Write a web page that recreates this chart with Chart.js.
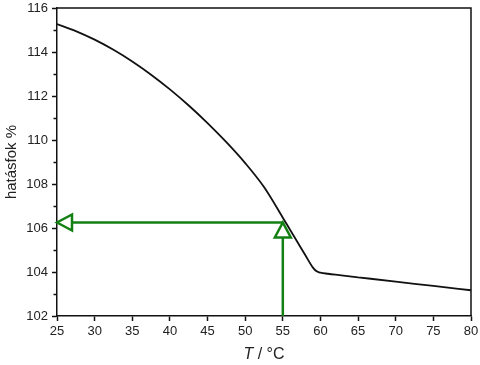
<!DOCTYPE html>
<html>
<head>
<meta charset="utf-8">
<script src="https://cdn.jsdelivr.net/npm/chart.js"></script>
<style>
  html, body { margin: 0; padding: 0; background: #fff; }
</style>
</head>
<body>
<canvas id="grafico" width="480" height="365"></canvas>
<script>
// Adatok

// hőmérséklet (°C)
const homerseklet = [25, 27.5, 30, 32.5, 35, 37.5, 40, 42.5, 45, 47.5, 50, 52.5, 55, 56, 57, 58, 59, 59.5, 60, 61, 62.5, 65, 70, 75, 80];
// hatásfok (%)
const hatasfok = [115.27, 114.95, 114.56, 114.1, 113.57, 112.97, 112.3, 111.57, 110.77, 109.9, 108.95, 107.86, 106.47, 105.9, 105.33, 104.76, 104.2, 104.03, 103.97, 103.92, 103.86, 103.76, 103.56, 103.37, 103.17];

// tengely határok
const xMin = 25, xMax = 80, xLepes = 5;
const yMin = 102, yMax = 116, yLepes = 2;

// leolvasás (nyilak)
const leolvasottT = 55;
const leolvasottHatasfok = 106.25;

const zold = "#138013";
const fekete = "#111";

// Nyílhegyek rajzolása a dataset utolsó pontjára
const nyilHegyek = {
  id: "nyilHegyek",
  afterDatasetsDraw(chart) {
    const ctx = chart.ctx;
    chart.data.datasets.forEach((ds, i) => {
      if (!ds.nyil) return;
      const pts = chart.getDatasetMeta(i).data;
      const a = pts[pts.length - 2];
      const b = pts[pts.length - 1];
      const szog = Math.atan2(b.y - a.y, b.x - a.x);
      ctx.save();
      ctx.translate(b.x, b.y);
      ctx.rotate(szog);
      ctx.beginPath();
      ctx.moveTo(0, 0);
      ctx.lineTo(-15, -8);
      ctx.lineTo(-15, 8);
      ctx.closePath();
      ctx.fillStyle = "#fff";
      ctx.fill();
      ctx.strokeStyle = ds.borderColor;
      ctx.lineWidth = 2.5;
      ctx.stroke();
      ctx.restore();
    });
  }
};

// Keret (felső és jobb oldal), rövid mellékosztások, x tengely felirata dőlt T-vel
const keret = {
  id: "keret",
  afterDraw(chart) {
    const { ctx, chartArea } = chart;
    const yScale = chart.scales.y;
    ctx.save();
    ctx.strokeStyle = fekete;
    ctx.lineWidth = 1.5;
    ctx.beginPath();
    ctx.moveTo(chartArea.left, chartArea.top);
    ctx.lineTo(chartArea.right, chartArea.top);
    ctx.lineTo(chartArea.right, chartArea.bottom);
    ctx.stroke();

    // mellékosztások az y tengelyen
    ctx.beginPath();
    yScale.ticks.forEach((t) => {
      if (t.value % yLepes === 0) return;
      const py = Math.round(yScale.getPixelForValue(t.value)) + 0.5;
      ctx.moveTo(chartArea.left - 3.5, py);
      ctx.lineTo(chartArea.left, py);
    });
    ctx.stroke();

    // x cím
    const kozep = (chartArea.left + chartArea.right) / 2;
    const dolt = "italic 16px 'Liberation Sans', Arial, sans-serif";
    const normal = "16px 'Liberation Sans', Arial, sans-serif";
    ctx.font = dolt;
    const w1 = ctx.measureText("T").width;
    ctx.font = normal;
    const w2 = ctx.measureText(" / °C").width;
    let x = kozep - (w1 + w2) / 2;
    ctx.fillStyle = "#222";
    ctx.textBaseline = "middle";
    ctx.textAlign = "left";
    ctx.font = dolt;
    ctx.fillText("T", x, 355);
    ctx.font = normal;
    ctx.fillText(" / °C", x + w1, 355);
    ctx.restore();
  }
};

const gorbe = homerseklet.map((t, i) => ({ x: t, y: hatasfok[i] }));
const vizszintesNyil = [
  { x: leolvasottT, y: leolvasottHatasfok },
  { x: xMin, y: leolvasottHatasfok }
];
const fuggolegesNyil = [
  { x: leolvasottT, y: yMin },
  { x: leolvasottT, y: leolvasottHatasfok }
];

const betu = "'Liberation Sans', Arial, sans-serif";

new Chart(document.getElementById("grafico"), {
  type: "line",
  data: {
    datasets: [
      {
        data: gorbe,
        borderColor: fekete,
        borderWidth: 1.8,
        pointRadius: 0,
        cubicInterpolationMode: "monotone",
        fill: false
      },
      {
        data: vizszintesNyil,
        borderColor: zold,
        borderWidth: 2.5,
        pointRadius: 0,
        fill: false,
        nyil: true
      },
      {
        data: fuggolegesNyil,
        borderColor: zold,
        borderWidth: 2.5,
        pointRadius: 0,
        fill: false,
        nyil: true
      }
    ]
  },
  options: {
    responsive: false,
    animation: false,
    layout: { padding: { left: 0, right: 9, top: 8, bottom: 0 } },
    plugins: {
      legend: { display: false },
      tooltip: { enabled: false }
    },
    scales: {
      x: {
        type: "linear",
        min: xMin,
        max: xMax,
        grid: { drawOnChartArea: false, tickLength: 5, tickColor: fekete, tickWidth: 1.5 },
        border: { color: fekete, width: 1.5 },
        ticks: { stepSize: xLepes, color: "#222", padding: 3, font: { family: betu, size: 13 } },
        afterFit(scale) {
          scale.height = 49;
          scale.paddingLeft = 0;
          scale.paddingRight = 0;
        }
      },
      y: {
        min: yMin,
        max: yMax,
        grid: {
          drawOnChartArea: false,
          tickLength: 5,
          tickWidth: 1.5,
          tickColor: (c) => (c.tick && c.tick.value % yLepes !== 0 ? "rgba(0,0,0,0)" : fekete)
        },
        border: { color: fekete, width: 1.5 },
        ticks: {
          stepSize: 1,
          autoSkip: false,
          color: "#222",
          padding: 4,
          font: { family: betu, size: 13 },
          callback: (v) => (v % yLepes === 0 ? v : "")
        },
        title: {
          display: true,
          text: "hatásfok %",
          color: "#222",
          font: { family: betu, size: 15 },
          padding: { top: 3, bottom: 0 }
        },
        afterFit(scale) {
          scale.width = 57;
          scale.paddingTop = 0;
          scale.paddingBottom = 0;
        }
      }
    }
  },
  plugins: [nyilHegyek, keret]
});
</script>
</body>
</html>
